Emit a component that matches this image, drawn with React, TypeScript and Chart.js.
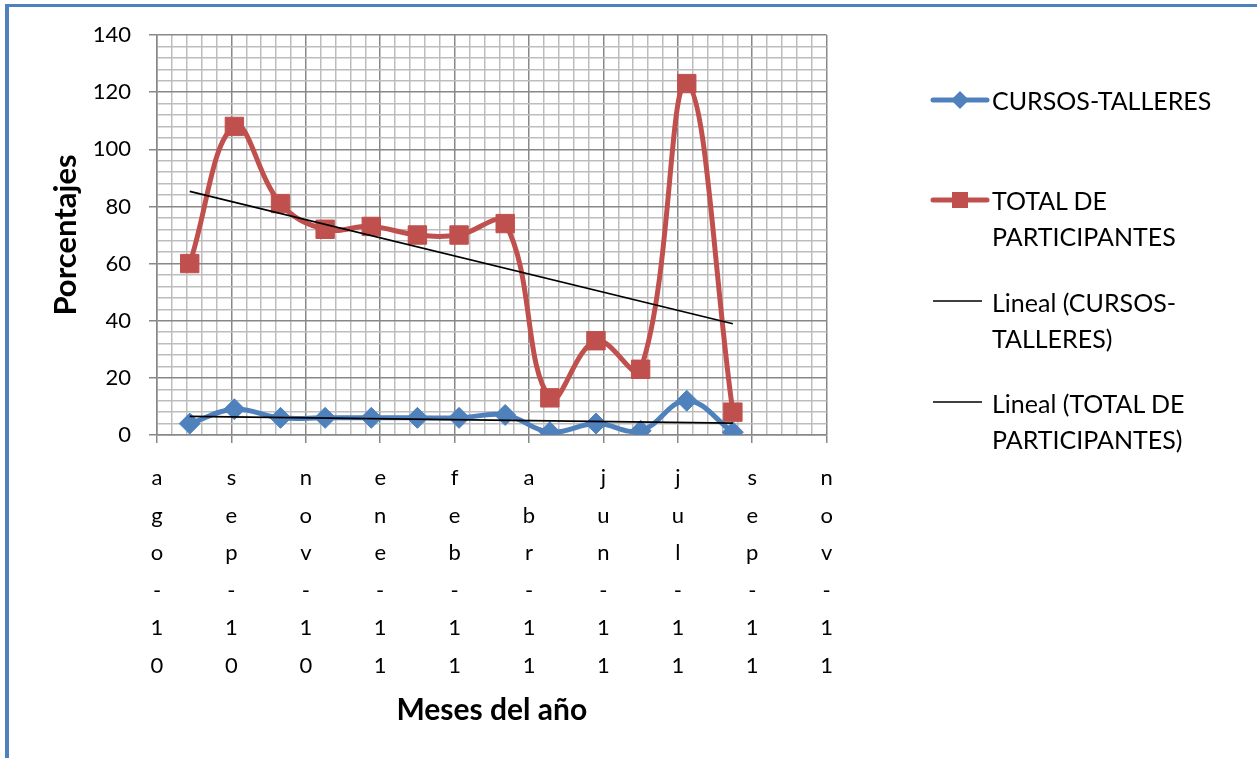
import React, { useEffect, useRef } from 'react';
import { Chart, registerables } from 'chart.js';

Chart.register(...registerables);

// ---- data ----
const axisStart = '2010-08-10';
const axisDays = 450;
const majorStepDays = 50;
const minorStepDays = 10;
const monthDates = [
  '2010-09-01', '2010-10-01', '2010-11-01', '2010-12-01', '2011-01-01', '2011-02-01',
  '2011-03-01', '2011-04-01', '2011-05-01', '2011-06-01', '2011-07-01', '2011-08-01', '2011-09-01',
];
const tickLabels = ['ago-10', 'sep-10', 'nov-10', 'ene-11', 'feb-11', 'abr-11', 'jun-11', 'jul-11', 'sep-11', 'nov-11'];
const cursosTalleres = [4, 9, 6, 6, 6, 6, 6, 7, 1, 4, 1.5, 12, 1];
const totalParticipantes = [60, 108, 81, 72, 73, 70, 70, 74, 13, 33, 23, 123, 8];
const yMax = 140;
const yMajor = 20;
const yMinor = 4;

const FONT = 'Lato, "Open Sans", sans-serif';
const BLUE = '#4f81bd';
const RED = '#c0504d';
const GRID_MAJOR = '#888888';
const GRID_MINOR = '#bdbdbd';

const dayOffset = (d: string) => (Date.parse(d) - Date.parse(axisStart)) / 86400000;
const xs = monthDates.map(dayOffset);

function toPoints(values: number[]) {
  return values.map((y, i) => ({ x: xs[i], y }));
}

function trend(values: number[]) {
  const n = values.length;
  const mx = xs.reduce((a, b) => a + b, 0) / n;
  const my = values.reduce((a, b) => a + b, 0) / n;
  let sxy = 0;
  let sxx = 0;
  for (let i = 0; i < n; i++) {
    sxy += (xs[i] - mx) * (values[i] - my);
    sxx += (xs[i] - mx) * (xs[i] - mx);
  }
  const b = sxy / sxx;
  const a = my - b * mx;
  const x0 = xs[0];
  const x1 = xs[n - 1];
  return [{ x: x0, y: a + b * x0 }, { x: x1, y: a + b * x1 }];
}

export default function App() {
  const canvasRef = useRef<HTMLCanvasElement | null>(null);

  useEffect(() => {
    if (!canvasRef.current) return;
    const chart = new Chart(canvasRef.current, {
      type: 'line',
      data: {
        datasets: [
          {
            label: 'Lineal (CURSOS-TALLERES)',
            data: trend(cursosTalleres),
            borderColor: '#000',
            borderWidth: 1.6,
            pointRadius: 0,
            tension: 0,
            order: 0,
          },
          {
            label: 'Lineal (TOTAL DE PARTICIPANTES)',
            data: trend(totalParticipantes),
            borderColor: '#000',
            borderWidth: 1.6,
            pointRadius: 0,
            tension: 0,
            order: 0,
          },
          {
            label: 'TOTAL DE PARTICIPANTES',
            data: toPoints(totalParticipantes),
            borderColor: RED,
            backgroundColor: RED,
            borderWidth: 5,
            pointStyle: 'rect',
            pointRadius: 13,
            pointBorderWidth: 1,
            pointBackgroundColor: RED,
            pointBorderColor: RED,
            tension: 0.4,
            order: 1,
          },
          {
            label: 'CURSOS-TALLERES',
            data: toPoints(cursosTalleres),
            borderColor: BLUE,
            backgroundColor: BLUE,
            borderWidth: 5,
            pointStyle: 'rectRot',
            pointRadius: 10.5,
            pointBorderWidth: 1,
            pointBackgroundColor: BLUE,
            pointBorderColor: BLUE,
            tension: 0.4,
            order: 2,
          },
        ],
      },
      options: {
        animation: false,
        responsive: true,
        maintainAspectRatio: false,
        layout: { padding: { left: 0, top: 35, right: 13, bottom: 0 } },
        plugins: { legend: { display: false }, tooltip: { enabled: false } },
        scales: {
          x: {
            type: 'linear',
            min: 0,
            max: axisDays,
            afterFit: (s: any) => {
              s.height = 323;
            },
            ticks: {
              stepSize: minorStepDays,
              autoSkip: false,
              maxRotation: 0,
              minRotation: 0,
              padding: 16,
              color: '#000',
              font: { family: FONT, size: 22, lineHeight: 1.71 },
              callback: (v: any) => {
                const n = Number(v);
                if (n % majorStepDays !== 0) return '';
                const lbl = tickLabels[n / majorStepDays];
                return lbl ? lbl.split('') : '';
              },
            },
            grid: {
              color: (c: any) => (c.tick && c.tick.value % majorStepDays === 0 ? GRID_MAJOR : GRID_MINOR),
              lineWidth: 1.5,
              tickLength: 8,
              tickColor: (c: any) => (c.tick && c.tick.value % majorStepDays === 0 ? GRID_MAJOR : 'rgba(0,0,0,0)'),
            },
            border: { color: GRID_MAJOR, width: 1.5 },
            title: {
              display: true,
              text: 'Meses del año',
              color: '#000',
              font: { family: FONT, size: 30, weight: 'bold' },
              padding: { top: 0, bottom: 30 },
            },
          },
          y: {
            min: 0,
            max: yMax,
            afterFit: (s: any) => {
              s.width = 157;
            },
            ticks: {
              stepSize: yMinor,
              autoSkip: false,
              padding: 18,
              color: '#000',
              font: { family: FONT, size: 22 },
              callback: (v: any) => (Number(v) % yMajor === 0 ? String(v) : ''),
            },
            grid: {
              color: (c: any) => (c.tick && c.tick.value % yMajor === 0 ? GRID_MAJOR : GRID_MINOR),
              lineWidth: 1.5,
              tickLength: 8,
              tickColor: (c: any) => (c.tick && c.tick.value % yMajor === 0 ? GRID_MAJOR : 'rgba(0,0,0,0)'),
            },
            border: { color: GRID_MAJOR, width: 1.5 },
            title: {
              display: true,
              text: 'Porcentajes',
              color: '#000',
              font: { family: FONT, size: 31, weight: 'bold' },
              padding: { top: 47, bottom: 0 },
            },
          },
        },
      },
    } as any);
    return () => chart.destroy();
  }, []);

  const legendText: React.CSSProperties = {
    position: 'absolute',
    left: 992,
    fontFamily: FONT,
    fontSize: 25,
    lineHeight: '36px',
    color: '#000',
    whiteSpace: 'nowrap',
  };

  return (
    <div
      style={{
        position: 'fixed',
        left: 0,
        top: 0,
        width: 1257,
        height: 758,
        overflow: 'hidden',
        background: '#fff',
      }}
    >
      <div
        style={{
          position: 'absolute',
          left: 5,
          top: 4,
          width: 1400,
          height: 900,
          borderLeft: `4px solid ${BLUE}`,
          borderTop: `3.5px solid ${BLUE}`,
          boxSizing: 'border-box',
        }}
      />
      <div style={{ position: 'absolute', left: 0, top: 0, width: 849, height: 758 }}>
        <canvas ref={canvasRef} />
      </div>
      <svg
        style={{ position: 'absolute', left: 0, top: 0 }}
        width={1257}
        height={758}
      >
        <line x1={933} y1={100} x2={987} y2={100} stroke={BLUE} strokeWidth={5} strokeLinecap="round" />
        <polygon points="960,91 969,100 960,109 951,100" fill={BLUE} />
        <line x1={933} y1={200} x2={987} y2={200} stroke={RED} strokeWidth={5} strokeLinecap="round" />
        <rect x={952} y={192} width={16} height={16} fill={RED} />
        <line x1={933} y1={301} x2={982} y2={301} stroke="#000" strokeWidth={1.6} />
        <line x1={933} y1={402} x2={982} y2={402} stroke="#000" strokeWidth={1.6} />
      </svg>
      <div style={{ ...legendText, top: 82 }}>CURSOS-TALLERES</div>
      <div style={{ ...legendText, top: 182 }}>
        TOTAL DE
        <br />
        PARTICIPANTES
      </div>
      <div style={{ ...legendText, top: 284 }}>
        Lineal (CURSOS-
        <br />
        TALLERES)
      </div>
      <div style={{ ...legendText, top: 385 }}>
        Lineal (TOTAL DE
        <br />
        PARTICIPANTES)
      </div>
    </div>
  );
}
